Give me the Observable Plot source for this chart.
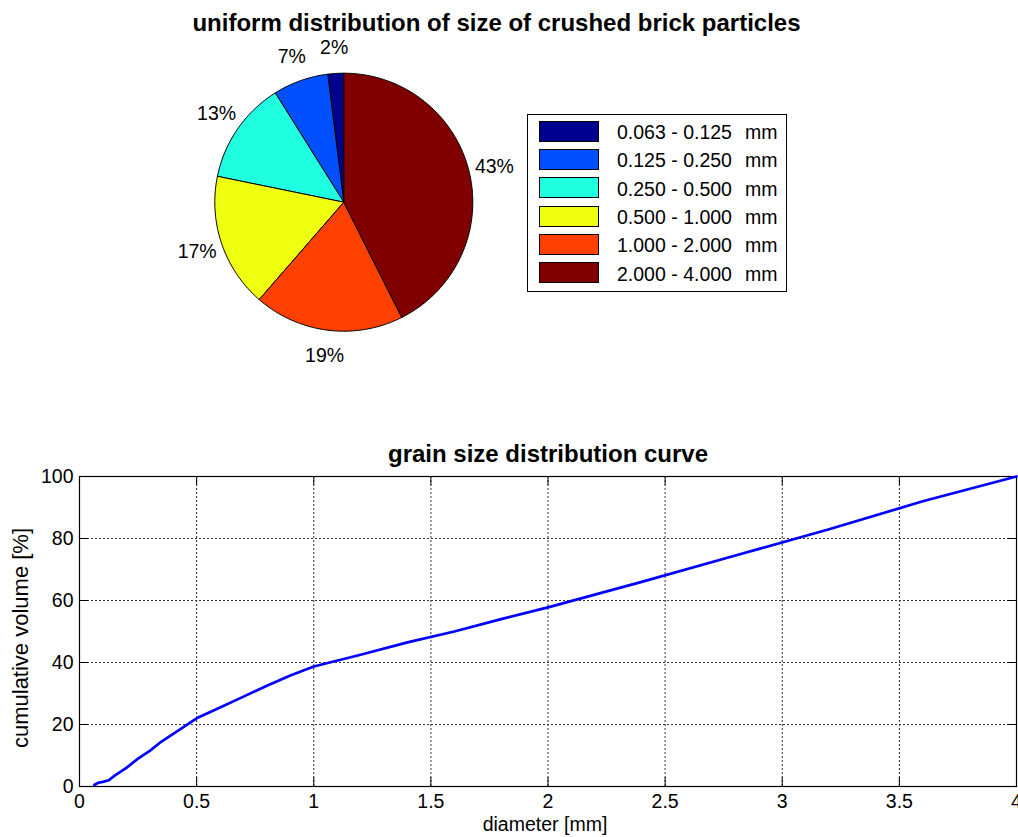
<!DOCTYPE html>
<html><head><meta charset="utf-8">
<script src="https://cdn.jsdelivr.net/npm/d3@7"></script>
<script src="https://cdn.jsdelivr.net/npm/@observablehq/plot@0.6"></script>
<style>
html,body{margin:0;padding:0;background:#fff;}
#fig{position:relative;width:1018px;height:837px;overflow:hidden;font-family:"Liberation Sans",Arial,Helvetica,sans-serif;color:#000;background:#fff;}
.abs{position:absolute;white-space:nowrap;}
.title{font-weight:bold;font-size:24px;line-height:24px;text-align:center;}
.lbl{font-size:19.5px;line-height:19.5px;}
</style></head><body><div id="fig"></div>
<script>
// ---------- data ----------
const sizeClasses = ["0.063 - 0.125", "0.125 - 0.250", "0.250 - 0.500", "0.500 - 1.000", "1.000 - 2.000", "2.000 - 4.000"];
const sharePct = [2, 7, 13, 17, 19, 43];
const classColors = ["#00008F", "#0050FF", "#20FFE0", "#EFFF10", "#FF4000", "#800000"];
const diameter  = [0.063, 0.08, 0.1, 0.125, 0.15, 0.2, 0.25, 0.3, 0.35, 0.4, 0.5, 0.6, 0.7, 0.8, 0.9, 1.0, 1.2, 1.4, 1.6, 1.8, 2.0, 2.4, 2.8, 3.2, 3.6, 4.0];
const cumVolume = [0.5, 1.2, 1.5, 2.0, 3.5, 6.0, 9.0, 11.5, 14.5, 17.0, 22.0, 25.5, 29.0, 32.5, 35.8, 38.7, 42.5, 46.5, 50.0, 54.0, 57.8, 66.0, 74.5, 83.0, 92.0, 100];
const xTicks = [0, 0.5, 1, 1.5, 2, 2.5, 3, 3.5, 4];
const yTicks = [0, 20, 40, 60, 80, 100];
const pieTitle = "uniform distribution of size of crushed brick particles";
const curveTitle = "grain size distribution curve";
const xLabel = "diameter [mm]";
const yLabel = "cumulative volume [%]";
const unit = "mm";

const FONT = '"Liberation Sans", Arial, Helvetica, sans-serif';
const fig = document.getElementById("fig");
function addDiv(cls, text, css) {
  const d = document.createElement("div");
  d.className = "abs " + cls;
  d.textContent = text;
  Object.assign(d.style, css);
  fig.appendChild(d);
  return d;
}

// ---------- pie ----------
const total = d3.sum(sharePct);
let acc = 0;
const slices = sharePct.map((v, i) => {
  const a0 = Math.PI / 2 + 2 * Math.PI * acc / total;
  acc += v;
  const a1 = Math.PI / 2 + 2 * Math.PI * acc / total;
  return {cls: sizeClasses[i], pct: v, a0, a1, mid: (a0 + a1) / 2};
});
const piePts = [];
for (const s of slices) {
  const n = Math.max(2, Math.ceil((s.a1 - s.a0) / (Math.PI / 180)));
  piePts.push({cls: s.cls, px: 0, py: 0});
  for (let k = 0; k <= n; k++) {
    const a = s.a0 + (s.a1 - s.a0) * k / n;
    piePts.push({cls: s.cls, px: Math.cos(a), py: Math.sin(a)});
  }
  piePts.push({cls: s.cls, px: 0, py: 0});
}
const pieLabels = slices.map(s => ({px: 1.2 * Math.cos(s.mid), py: 1.2 * Math.sin(s.mid), t: s.pct + "%"}));

const R = 129, CX = 343.3, CY = 201.7, PW = 1018, PH = 420;
const pie = Plot.plot({
  width: PW, height: PH, margin: 0,
  style: {fontFamily: FONT, fontSize: "19.5px", background: "transparent", color: "black"},
  x: {domain: [-CX / R, (PW - CX) / R], axis: null},
  y: {domain: [-(PH - CY) / R, CY / R], axis: null},
  color: {domain: sizeClasses, range: classColors},
  marks: [
    Plot.line(piePts, {x: "px", y: "py", z: "cls", fill: "cls", stroke: "black", strokeWidth: 1, curve: "linear"}),
    Plot.text(pieLabels, {x: "px", y: "py", text: "t", fill: "black", fontSize: 19.5})
  ]
});
pie.style.position = "absolute"; pie.style.left = "0px"; pie.style.top = "0px";
fig.appendChild(pie);

addDiv("title", pieTitle, {left: "0px", width: "993px", top: "10.5px"});

// legend
const leg = document.createElement("div");
leg.className = "abs";
Object.assign(leg.style, {left: "527px", top: "114px", width: "260px", height: "178px", border: "1px solid #000", boxSizing: "border-box", background: "#fff"});
fig.appendChild(leg);
sizeClasses.forEach((c, i) => {
  const sw = document.createElement("div");
  Object.assign(sw.style, {position: "absolute", left: "10.6px", top: (5.7 + 28.3 * i) + "px", width: "60.7px", height: "21px", border: "1px solid #000", boxSizing: "border-box", background: classColors[i]});
  leg.appendChild(sw);
  const t = document.createElement("div");
  t.className = "abs lbl"; t.textContent = c;
  Object.assign(t.style, {left: "89px", top: (17.5 + 28.3 * i - 9.5) + "px"});
  leg.appendChild(t);
  const m = document.createElement("div");
  m.className = "abs lbl"; m.textContent = unit;
  Object.assign(m.style, {left: "217px", top: (17.5 + 28.3 * i - 9.5) + "px"});
  leg.appendChild(m);
});

// ---------- curve ----------
const curve = diameter.map((d, i) => ({d, v: cumVolume[i]}));
const gridX = xTicks.slice(1, -1), gridY = yTicks.slice(1, -1);
const TOP = 430;
const line = Plot.plot({
  width: 1018, height: 407,
  marginTop: 46, marginBottom: 51, marginLeft: 79, marginRight: 2,
  style: {fontFamily: FONT, fontSize: "19.5px", background: "transparent", color: "black", overflow: "visible"},
  x: {domain: [0, 4], ticks: xTicks, tickSize: 0, tickPadding: 8, tickFormat: d => String(d), label: null},
  y: {domain: [0, 100], ticks: yTicks, tickSize: 0, tickPadding: 6, tickFormat: d => String(d), label: null},
  marks: [
    Plot.ruleX(gridX, {stroke: "#333", strokeWidth: 1, strokeDasharray: "2,2"}),
    Plot.ruleY(gridY, {stroke: "#333", strokeWidth: 1, strokeDasharray: "2,2"}),
    Plot.ruleX(xTicks, {y1: 0, y2: 2.9, stroke: "black"}),
    Plot.ruleX(xTicks, {y1: 97.1, y2: 100, stroke: "black"}),
    Plot.ruleY(yTicks, {x1: 0, x2: 0.038, stroke: "black"}),
    Plot.ruleY(yTicks, {x1: 3.962, x2: 4, stroke: "black"}),
    Plot.frame({stroke: "black", strokeWidth: 1.2}),
    Plot.line(curve, {x: "d", y: "v", stroke: "#0000FF", strokeWidth: 2.7, curve: "linear"})
  ]
});
line.style.position = "absolute"; line.style.left = "0px"; line.style.top = TOP + "px";
fig.appendChild(line);

addDiv("title", curveTitle, {left: "0px", width: "1096px", top: "441.5px"});
addDiv("lbl", xLabel, {left: "0px", width: "1090px", textAlign: "center", top: "815px"});
addDiv("", yLabel, {left: "20.5px", top: "638px", fontSize: "22px", lineHeight: "22px", transform: "translate(-50%,-50%) rotate(-90deg)"});
</script></body></html>
